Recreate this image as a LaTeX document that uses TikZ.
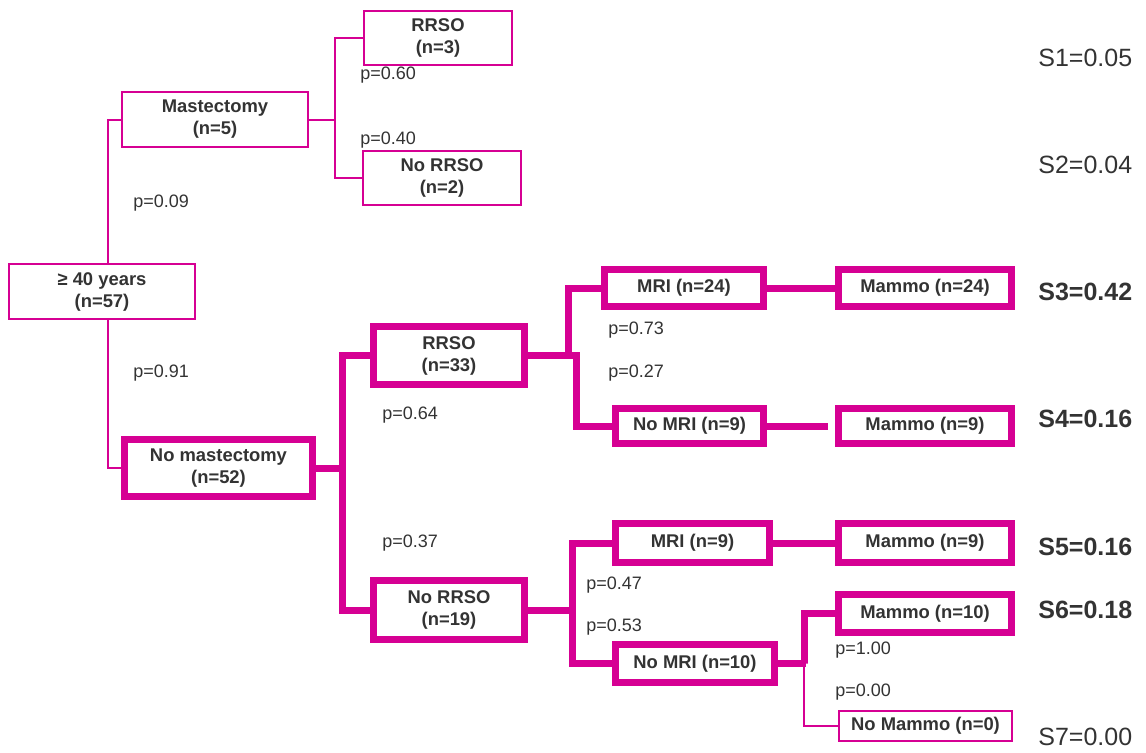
\documentclass[tikz,border=0pt]{standalone}
\usepackage{fontspec}
\setmainfont{Liberation Sans}
\usetikzlibrary{positioning,calc}
\definecolor{treepink}{HTML}{D60093}
\definecolor{darktext}{HTML}{333333}
\tikzset{
  box/.style={draw=treepink, fill=white, align=center, inner sep=0pt, text=darktext, font=\fontsize{9.2}{11}\selectfont\bfseries},
  thinbox/.style={box, line width=1pt},
  thickbox/.style={box, line width=3.5pt},
  thinline/.style={draw=treepink, line width=1pt},
  thickline/.style={draw=treepink, line width=3.5pt},
  plabel/.style={anchor=west, inner sep=0pt, text=darktext, font=\fontsize{9}{11}\selectfont},
  slabel/.style={anchor=west, inner sep=0pt, text=darktext, font=\fontsize{12.5}{15}\selectfont},
}

\begin{document}
\begin{tikzpicture}[x=0.5pt,y=-0.5pt]
\useasboundingbox (0,0) rectangle (1146,752);
% Boxes, upper branch
\node[thinbox, minimum width=93pt, minimum height=27.5pt] (age) at (102,291.5) {≥ 40 years\\(n=57)};
\node[thinbox, minimum width=93pt, minimum height=27.5pt] (mast) at (215,119.5) {Mastectomy\\(n=5)};
\node[thinbox, minimum width=74pt, minimum height=27pt] (mastrrso) at (438,38) {RRSO\\(n=3)};
\node[thinbox, minimum width=79pt, minimum height=27pt] (mastnorrso) at (442,178) {No RRSO\\(n=2)};
% Boxes, lower branch
\node[thickbox, minimum width=94pt, minimum height=28.5pt] (nomast) at (218.5,468) {No mastectomy\\(n=52)};
\node[thickbox, minimum width=75.5pt, minimum height=29pt] (rrso) at (449,355.5) {RRSO\\(n=33)};
\node[thickbox, minimum width=75.5pt, minimum height=29.5pt] (norrso) at (449,610) {No RRSO\\(n=19)};
\node[thickbox, minimum width=79.5pt, minimum height=18.5pt] (rrsomri) at (684,288) {MRI (n=24)};
\node[thickbox, minimum width=74pt, minimum height=17.5pt] (rrsonomri) at (689.5,426) {No MRI (n=9)};
\node[thickbox, minimum width=86.5pt, minimum height=18.5pt] (rrsomammo) at (925,288) {Mammo (n=24)};
\node[thickbox, minimum width=86.5pt, minimum height=17.5pt] (rrsonomammo) at (925,426) {Mammo (n=9)};
\node[thickbox, minimum width=77pt, minimum height=19.5pt] (norrsomri) at (692.5,543) {MRI (n=9)};
\node[thickbox, minimum width=79.5pt, minimum height=19pt] (norrsonomri) at (695,663.5) {No MRI (n=10)};
\node[thickbox, minimum width=86.5pt, minimum height=19.5pt] (norrsomammo) at (925,543) {Mammo (n=9)};
\node[thickbox, minimum width=86.5pt, minimum height=19pt] (mammoten) at (925,613.5) {Mammo (n=10)};
\node[thinbox, minimum width=86.5pt, minimum height=15pt] (nomammo) at (925.5,726) {No Mammo (n=0)};

% Connectors
\draw[thinline] ([xshift=3pt]age.north) |- (mast.west);
\draw[thinline] ([xshift=3pt]age.south) |- (nomast.west);
\draw[thinline] (mast.east) -- ++(26,0);
\draw[thinline] (mastrrso.west) -| ($(mast.east)+(26,0)$) |- (mastnorrso.west);
\draw[thickline] (nomast.east) -- ++(26,0);
\draw[thickline] (rrso.west) -| ($(nomast.east)+(26,0)$) |- (norrso.west);
\draw[thickline] (rrso.east) -- ++(40,0) |- (rrsomri.west);
\draw[thickline] (rrso.east) -- ++(48,0) |- (rrsonomri.west);
\draw[thickline] (rrsomri.east) -- (rrsomammo.west);
\draw[thickline] (rrsonomri.east) -- ([xshift=-3.5pt]rrsonomammo.west);
\draw[thickline] (norrso.east) -- ++(47,0);
\draw[thickline] (norrsomri.west) -| ($(norrso.east)+(44,0)$) |- (norrsonomri.west);
\draw[thickline] (norrsomri.east) -- (norrsomammo.west);
\draw[thickline] (norrsonomri.east) -- ++(28,0);
\draw[thickline] (mammoten.west) -| ($(norrsonomri.east)+(26,0)$) -- ++(0,-3.5);
\draw[thinline] ($(norrsonomri.east)+(26,0)$) |- (nomammo.west);

% Probabilities
\node[plabel] (p1) at (360,75) {p=0.60};
\node[plabel] (p2) at (360,140) {p=0.40};
\node[plabel] (p3) at (133,203) {p=0.09};
\node[plabel] (p4) at (133,373) {p=0.91};
\node[plabel] (p5) at (382,415) {p=0.64};
\node[plabel] (p6) at (382,543) {p=0.37};
\node[plabel] (p7) at (608,330) {p=0.73};
\node[plabel] (p8) at (608,373) {p=0.27};
\node[plabel] (p9) at (586,585) {p=0.47};
\node[plabel] (p10) at (586,627) {p=0.53};
\node[plabel] (p11) at (835,650) {p=1.00};
\node[plabel] (p12) at (835,692) {p=0.00};

% Outcomes
\node[slabel] (s1) at (1038,58) {S1=0.05};
\node[slabel] (s2) at (1038,165) {S2=0.04};
\node[slabel, font=\fontsize{12.5}{15}\selectfont\bfseries] (s3) at (1038,292) {S3=0.42};
\node[slabel, font=\fontsize{12.5}{15}\selectfont\bfseries] (s4) at (1038,419) {S4=0.16};
\node[slabel, font=\fontsize{12.5}{15}\selectfont\bfseries] (s5) at (1038,547) {S5=0.16};
\node[slabel, font=\fontsize{12.5}{15}\selectfont\bfseries] (s6) at (1038,610) {S6=0.18};
\node[slabel] (s7) at (1038,737) {S7=0.00};
\end{tikzpicture}
\end{document}
